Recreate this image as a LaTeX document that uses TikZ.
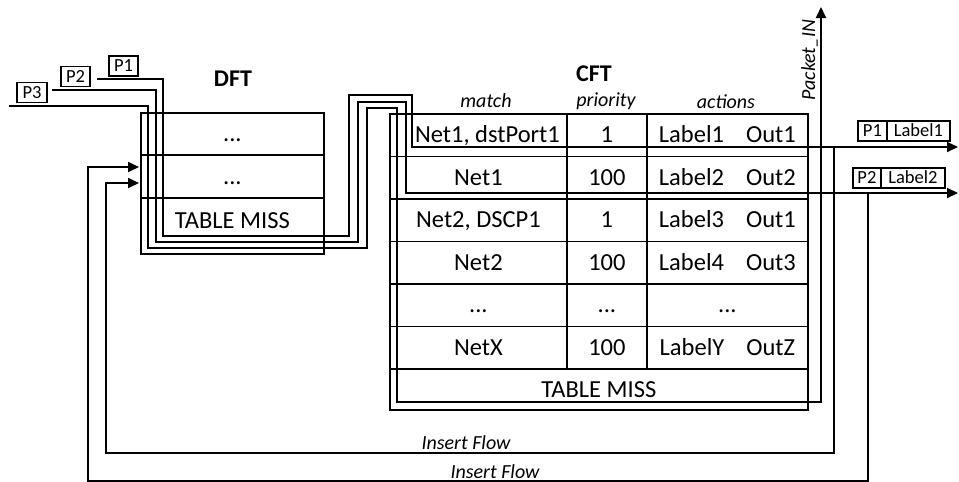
\documentclass[tikz,border=0pt]{standalone}
\usepackage{fontspec}
\setmainfont{Carlito}
\usetikzlibrary{arrows.meta}
\begin{document}
\begin{tikzpicture}[x=1pt,y=-1pt,
  line width=1.8pt,
  big/.style={font=\fontsize{24.5}{27}\selectfont},
  cell/.style={draw, inner sep=0pt, anchor=north west, big,
    text height=15.2pt, text depth=0pt},
  hdr/.style={font=\fontsize{20}{22}\selectfont\itshape, anchor=base, inner sep=0pt},
  ttl/.style={font=\fontsize{24}{26}\selectfont\bfseries, anchor=base, inner sep=0pt},
  tag/.style={draw, inner sep=0pt, minimum height=20pt,
    font=\fontsize{18.5}{20}\selectfont, text height=11.5pt, text depth=0pt},
  flow/.style={line width=1.8pt},
  tip/.style={-{Triangle[length=11pt,width=10pt]}},
]
\useasboundingbox (0,0) rectangle (959,482);

% ---------- DFT ----------
\node[ttl] (dfttitle) at (233,86) {DFT};
\node[draw, inner sep=0pt, anchor=north west, minimum width=183pt, minimum height=141pt] (dft) at (140,112) {};
\node[cell, minimum width=183pt, minimum height=42pt] (d1) at (140,112) {...};
\node[cell, minimum width=183pt, minimum height=43pt] (d2) at (140,154) {...};
\node[cell, draw=none, minimum width=183pt, minimum height=46pt] (d3) at (140,197) {TABLE MISS};

% ---------- CFT ----------
\node[ttl] (cfttitle) at (594,81) {CFT};
\node[hdr] (hmatch) at (486,107) {match};
\node[hdr] (hprio) at (606,106) {priority};
\node[hdr] (hact) at (726,108) {actions};

\tikzset{mcol/.style={cell, minimum width=177pt, minimum height=42.5pt},
         pcol/.style={cell, minimum width=80pt, minimum height=42.5pt},
         acol/.style={cell, minimum width=161pt, minimum height=42.5pt}}
\newcommand\actpair[2]{#1\hspace{0.9em}#2}

% first entry: text kept clear of the incoming P1 line
\node[mcol] (m1) at (389,113) {\hspace{18pt}Net1, dstPort1};
\node[pcol] (q1) at (566,113) {1};
\node[acol] (a1) at (646,113) {\actpair{Label1}{Out1}};

\node[mcol] (m2) at (389,155.5) {Net1};
\node[pcol] (q2) at (566,155.5) {100};
\node[acol] (a2) at (646,155.5) {\actpair{Label2}{Out2}};

\node[mcol] (m3) at (389,198) {Net2, DSCP1};
\node[pcol] (q3) at (566,198) {1};
\node[acol] (a3) at (646,198) {\actpair{Label3}{Out1}};

\node[mcol] (m4) at (389,240.5) {Net2};
\node[pcol] (q4) at (566,240.5) {100};
\node[acol] (a4) at (646,240.5) {\actpair{Label4}{Out3}};

\node[mcol] (m5) at (389,283) {...};
\node[pcol] (q5) at (566,283) {...};
\node[acol] (a5) at (646,283) {...};

\node[mcol] (m6) at (389,325.5) {NetX};
\node[pcol] (q6) at (566,325.5) {100};
\node[acol] (a6) at (646,325.5) {\actpair{LabelY}{OutZ}};

\node[cell, minimum width=418pt, minimum height=41pt] (miss) at (389,368) {TABLE MISS};

% ---------- packet tags ----------
\node[tag, minimum width=29pt] (tp1) at (123.5,66) {P1};
\node[tag, minimum width=29pt] (tp2) at (75.5,76.5) {P2};
\node[tag, minimum width=30pt] (tp3) at (32,92.5) {P3};

\node[tag, minimum width=29pt, anchor=north west] (op1) at (857,120) {P1};
\node[tag, minimum width=63pt, anchor=north west] (ol1) at (886,120) {Label1};
\node[tag, minimum width=28pt, anchor=north west] (op2) at (852,167) {P2};
\node[tag, minimum width=64pt, anchor=north west] (ol2) at (880,167) {Label2};

% ---------- free ends of the packet paths ----------
\coordinate (p1a) at (97,79);
\coordinate (p2a) at (52,90);
\coordinate (p3a) at (9,106);
\coordinate (p1z) at (958,147);
\coordinate (p2z) at (958,193);
\coordinate (pinz) at (821,7);
\coordinate (f1a) at (834,147);
\coordinate (f2a) at (868,193);
\coordinate (f1z) at (139,183);
\coordinate (f2z) at (139,167);

% P1: DFT -> CFT first entry -> out with Label1
\draw[flow, tip] (p1a) -- (163,79) -- (163,236) -- (349,236) -- (349,95)
  -- (412,95) -- (412,147) -- (p1z);
% P2: DFT -> CFT second entry -> out with Label2
\draw[flow, tip] (p2a) -- (156,90) -- (156,242) -- (358,242) -- (358,102)
  -- (406,102) -- (406,193) -- (p2z);
% P3: DFT -> CFT table miss -> Packet_IN
\draw[flow, tip] (p3a) -- (148,106) -- (148,248) -- (367,248) -- (367,108)
  -- (397,108) -- (397,402) -- (821,402) -- (pinz);
\node[hdr, rotate=90] (pinlbl) at (815,60) {Packet\_IN};

% Insert Flow feedback into the DFT
\draw[flow, tip] (f1a) -- (834,453) -- (106,453) -- (106,183) -- (f1z);
\draw[flow, tip] (f2a) -- (868,481) -- (88,481) -- (88,167) -- (f2z);
\node[hdr] (ins1) at (466,449.3) {Insert Flow};
\node[hdr] (ins2) at (495,478.3) {Insert Flow};
\end{tikzpicture}
\end{document}
